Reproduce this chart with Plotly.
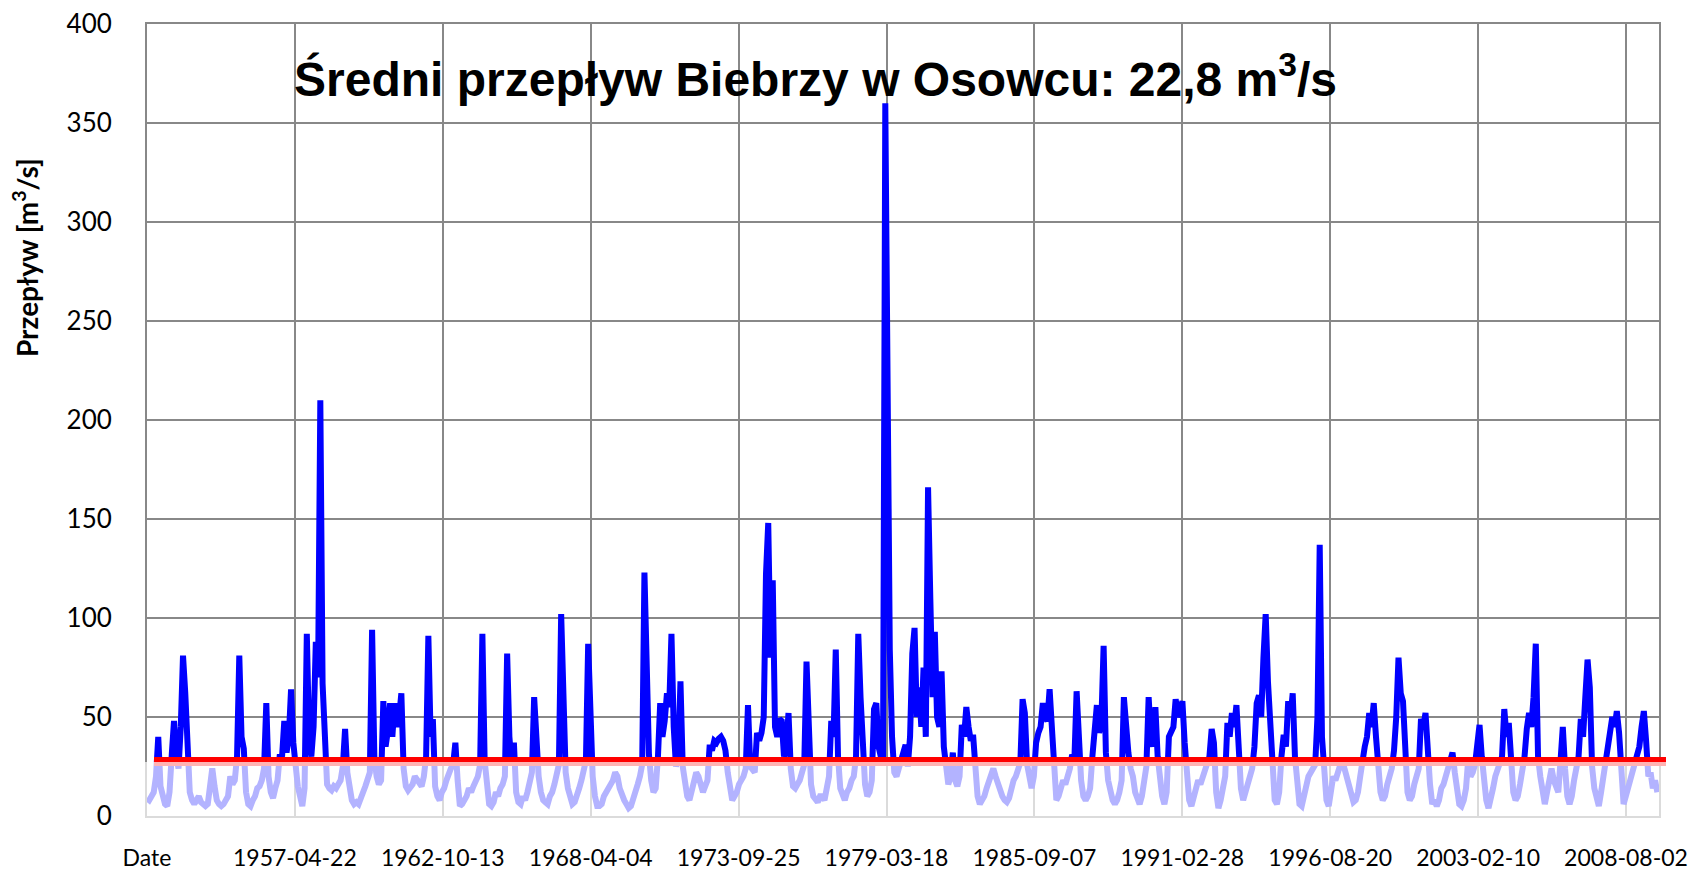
import plotly.graph_objects as go

# Monthly-ish flow samples (m3/s), in category order,
# 12 samples per row-year, grouped in small chunks.
flow_part1 = [
    9, 8, 10, 12, 20, 40, 15, 10, 6, 5, 12, 31,
    48, 30, 24, 45, 81, 62, 25, 12, 8, 6, 8, 10,
    7, 6, 5, 6, 14, 24, 15, 8, 6, 5, 6, 9,
    10, 20, 16, 18, 30, 81, 40, 34, 12, 6, 5, 8,
    10, 14, 15, 18, 24, 57, 20, 12, 9, 14, 18, 31,
    30, 48, 32, 40, 64, 37, 22, 15, 10, 5, 14, 92,
    40, 30, 45, 88, 70, 210, 67, 32, 16, 14, 13, 15,
    14, 16, 18, 25, 44, 22, 12, 8, 6, 7, 6, 10,
]
flow_part2 = [
    12, 15, 18, 22, 94, 30, 20, 16, 18, 58, 35, 43,
    57, 40, 57, 45, 50, 62, 24, 15, 13, 14, 16, 20,
    18, 16, 15, 20, 30, 91, 40, 49, 15, 10, 8, 12,
    14, 18, 22, 24, 26, 37, 18, 5, 6, 8, 10, 14,
    12, 15, 18, 20, 26, 92, 28, 14, 6, 5, 7, 12,
    10, 14, 16, 20, 82, 40, 26, 37, 12, 7, 6, 10,
    8, 12, 16, 22, 60, 35, 20, 12, 8, 7, 6, 10,
    12, 16, 20, 26, 102, 45, 22, 14, 8, 6, 7, 12,
]
flow_part3 = [
    14, 18, 22, 28, 87, 40, 20, 10, 5, 5, 6, 10,
    12, 14, 16, 18, 22, 20, 14, 10, 8, 6, 4, 5,
    8, 12, 16, 20, 26, 123, 70, 31, 18, 12, 14, 30,
    57, 40, 48, 62, 55, 92, 45, 25, 30, 68, 25, 18,
    10, 8, 12, 16, 22, 20, 14, 12, 15, 18, 36, 33,
    38, 37, 39, 40, 38, 33, 22, 14, 8, 10, 12, 16,
    18, 20, 24, 56, 25, 24, 22, 42, 38, 42, 50, 122,
    148, 80, 119, 45, 40, 49, 48, 30, 35, 52, 24, 15,
]
flow_part4 = [
    14, 16, 18, 22, 26, 78, 34, 16, 10, 8, 7, 10,
    10, 8, 14, 20, 48, 40, 84, 30, 14, 10, 8, 12,
    14, 18, 20, 30, 92, 60, 29, 16, 10, 12, 18, 54,
    57, 35, 30, 30, 360, 220, 84, 40, 22, 20, 24, 26,
    30, 36, 25, 40, 82, 95, 50, 65, 45, 75, 40, 166,
    110, 60, 93, 50, 45, 73, 35, 22, 16, 20, 32, 18,
    15, 20, 46, 40, 55, 45, 38, 41, 22, 10, 6, 8,
    10, 14, 18, 22, 24, 20, 16, 12, 10, 8, 7, 9,
]
flow_part5 = [
    14, 18, 20, 24, 27, 59, 52, 26, 18, 14, 20, 37,
    42, 45, 57, 50, 48, 64, 45, 20, 8, 10, 14, 18,
    16, 20, 24, 31, 28, 63, 36, 18, 10, 8, 10, 14,
    30, 40, 56, 42, 48, 86, 32, 18, 12, 8, 6, 8,
    12, 18, 60, 43, 32, 24, 20, 12, 8, 6, 10, 16,
    25, 60, 40, 35, 55, 30, 18, 10, 6, 12, 40, 42,
    45, 59, 50, 53, 58, 37, 22, 8, 5, 10, 14, 18,
    16, 20, 22, 26, 30, 44, 37, 12, 4, 8, 14, 20,
]
flow_part6 = [
    47, 40, 52, 45, 56, 26, 14, 8, 12, 18, 20, 24,
    35, 57, 61, 50, 80, 102, 68, 47, 26, 8, 6, 12,
    30, 41, 35, 58, 50, 62, 30, 14, 6, 5, 10, 18,
    20, 22, 24, 26, 50, 137, 40, 16, 8, 5, 12, 20,
    18, 22, 26, 29, 24, 20, 14, 10, 7, 8, 12, 20,
    30, 35, 40, 52, 45, 57, 40, 26, 12, 8, 10, 16,
    20, 24, 33, 50, 80, 62, 58, 28, 12, 8, 10, 16,
    20, 24, 49, 45, 52, 30, 16, 6, 8, 5, 8, 14,
]
flow_part7 = [
    16, 20, 24, 26, 32, 22, 12, 6, 5, 8, 14, 29,
    20, 22, 26, 35, 46, 30, 16, 8, 4, 8, 14, 20,
    24, 26, 30, 54, 40, 47, 22, 12, 8, 10, 16, 22,
    30, 44, 52, 45, 60, 87, 30, 20, 14, 6, 12, 20,
    24, 18, 14, 12, 28, 45, 24, 10, 6, 10, 18, 26,
    30, 49, 40, 60, 79, 65, 25, 14, 8, 5, 12, 20,
    24, 31, 40, 50, 45, 53, 42, 18, 6, 10, 14, 18,
    22, 26, 30, 35, 45, 53, 38, 20, 22, 14, 18, 12,
]

tick_positions = [0, 2000, 4000, 6000, 8000, 10000, 12000, 14000, 16000, 18000, 20000]
tick_labels = ["Date", "1957-04-22", "1962-10-13", "1968-04-04", "1973-09-25",
               "1979-03-18", "1985-09-07", "1991-02-28", "1996-08-20",
               "2003-02-10", "2008-08-02"]
n_categories = 20446
threshold_value = 27.5       # red reference line
days_per_sample = 365.25 / 12

flow = flow_part1 + flow_part2 + flow_part3 + flow_part4 + flow_part5 + flow_part6 + flow_part7
x = [i * days_per_sample for i in range(len(flow))]

GRID = "#888888"

fig = go.Figure()
fig.add_trace(go.Scatter(x=x, y=flow, mode="lines",
                         line=dict(color="#0000FF", width=6),
                         showlegend=False, hoverinfo="skip"))

# plot-area geometry (pixels) for paper-coordinate placements
L, R, T, B = 147, 1659, 24, 816
W, H = R - L, B - T

def px_x(p):
    return (p - L) / W

def px_y(p):
    return (B - p) / H

shapes = [
    # red average line
    dict(type="line", xref="paper", yref="y",
         x0=px_x(154), x1=px_x(1666), y0=threshold_value, y1=threshold_value,
         line=dict(color="#FF0000", width=9), layer="above"),
    # translucent white veil over the below-threshold band
    dict(type="rect", xref="paper", yref="paper",
         x0=px_x(138), x1=px_x(1670), y0=px_y(822), y1=px_y(762),
         fillcolor="rgba(255,255,255,0.70)", line=dict(width=0), layer="above"),
]

fig.update_layout(
    width=1690, height=870,
    margin=dict(l=L, r=1690 - R, t=T, b=870 - B, autoexpand=False),
    paper_bgcolor="white", plot_bgcolor="white",
    shapes=shapes,
    showlegend=False,
    annotations=[
        dict(text="Średni przepływ Biebrzy w Osowcu: 22,8 m<sup>3</sup>/s",
             xref="paper", yref="paper", x=px_x(292), y=px_y(76),
             xanchor="left", yanchor="middle", showarrow=False,
             font=dict(family="Liberation Sans", size=48, color="black", weight="bold")),
        dict(text="Przepływ [m<sup>3</sup>/s]",
             xref="paper", yref="paper", x=px_x(25), y=px_y(258),
             xanchor="center", yanchor="middle", textangle=-90, showarrow=False,
             font=dict(family="Lato", size=28, color="black", weight="bold")),
    ],
)

fig.update_xaxes(
    range=[0, n_categories], tickmode="array", tickvals=tick_positions, ticktext=tick_labels,
    showgrid=True, gridcolor=GRID, gridwidth=2,
    showline=True, linecolor=GRID, linewidth=2, mirror=True,
    zeroline=False, ticks="", ticklabelstandoff=20, automargin=False,
    tickfont=dict(family="Lato", size=23, color="black"),
)
fig.update_yaxes(
    range=[0, 400], tickmode="linear", tick0=0, dtick=50,
    showgrid=True, gridcolor=GRID, gridwidth=2,
    showline=True, linecolor=GRID, linewidth=2, mirror=True,
    zeroline=False, ticks="", ticklabelstandoff=28, automargin=False,
    tickfont=dict(family="Lato", size=26, color="black"),
)

fig.write_html(
    "out.html",
    config={"displayModeBar": False},
    post_script="document.body.style.margin='0';document.body.style.padding='0';"
                "document.body.style.overflow='hidden';",
)
